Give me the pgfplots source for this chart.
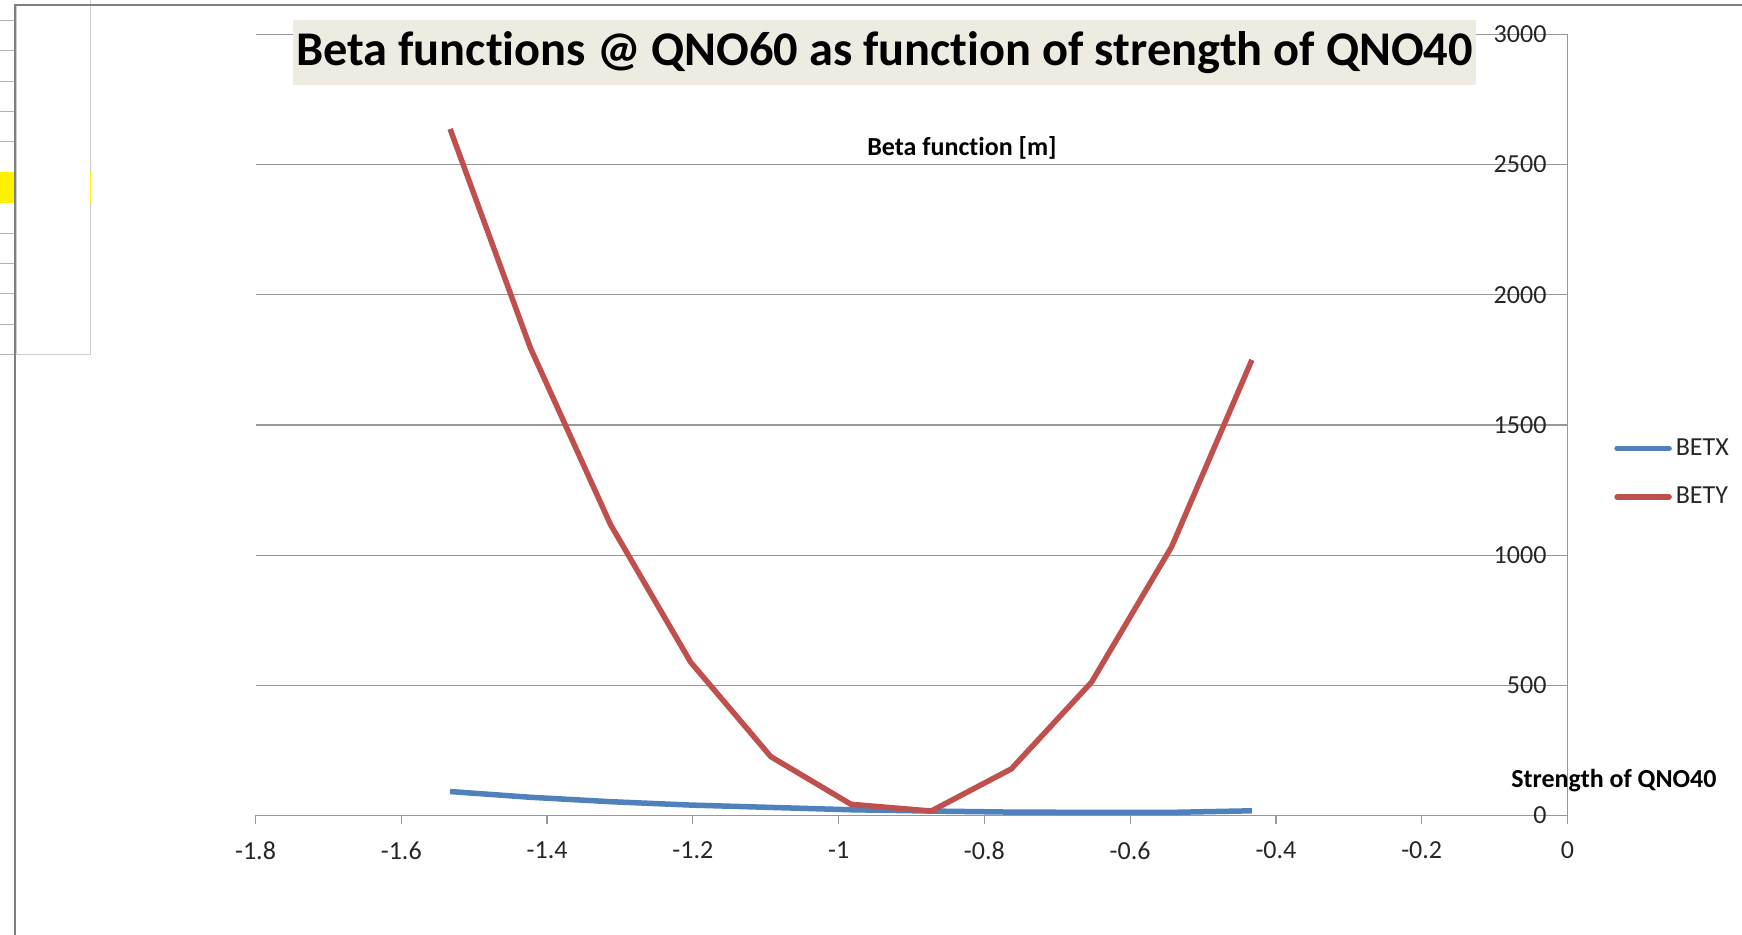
\documentclass[border=0pt]{standalone}
\usepackage{fontspec}
\setmainfont{Carlito}[Ligatures=NoCommon]
\usepackage{pgfplots}
\pgfplotsset{compat=1.18}
\definecolor{betx}{HTML}{4F81BD}
\definecolor{bety}{HTML}{C0504D}
\definecolor{axgray}{HTML}{989898}
\definecolor{txt}{HTML}{262626}
\definecolor{titlebg}{HTML}{EEECE1}
\newcommand{\lbl}{\fontsize{13}{15}\selectfont}

\begin{document}
\begin{tikzpicture}
\path[use as bounding box] (0,0) rectangle (871pt,467.5pt);
\begin{axis}[
    at={(127.75pt,59.75pt)}, anchor=south west,
    scale only axis, width=656pt, height=390.5pt,
    xmin=-1.8, xmax=0, ymin=0, ymax=3000,
    axis x line*=bottom, axis y line*=right,
    axis line style={axgray, line width=0.6pt},
    xtick={-1.8,-1.6,-1.4,-1.2,-1,-0.8,-0.6,-0.4,-0.2,0},
    xticklabels={-1.8,-1.6,-1.4,-1.2,-1,-0.8,-0.6,-0.4,-0.2,0},
    ytick={0,500,1000,1500,2000,2500,3000},
    yticklabels={0,500,1000,1500,2000,2500,3000},
    ymajorgrids,
    grid style={axgray, line width=0.6pt},
    tick align=outside,
    major tick length=4.5pt,
    x tick style={axgray, line width=0.6pt},
    y tick style={draw=none},
    xticklabel style={font=\lbl, text=txt, yshift=-5pt},
    yticklabel style={font=\lbl, text=txt, anchor=east, xshift=-11.5pt},
    title={Beta functions @ QNO60 as function of strength of QNO40},
    title style={at={(axis description cs:0.4794,0.9756)}, anchor=center,
        yshift=-5.3pt, fill=titlebg, font=\bfseries\fontsize{24.2}{28}\selectfont,
        minimum width=591.5pt, minimum height=32.5pt, inner sep=0pt},
    xlabel={Strength of QNO40},
    xlabel style={at={(axis description cs:1.0354,0.0442)}, anchor=center,
        font=\bfseries\lbl},
    ylabel={Beta function [m]},
    ylabel style={at={(axis description cs:0.5385,0.855)}, anchor=center,
        rotate=-90, font=\bfseries\lbl},
    legend style={draw=none, fill=none, at={(axis description cs:1.0354,0.439)},
        anchor=west, font=\lbl, text=txt, row sep=10.5pt, inner sep=0pt},
    legend cell align=left,
    legend image code/.code={\draw[#1, line cap=round] (0pt,0pt) -- (26pt,0pt);},
    every axis plot/.append style={line width=2.75pt, line join=round},
    clip=false,
]
\addplot[color=betx] coordinates {
    (-1.533,92) (-1.423,70) (-1.313,53) (-1.203,40) (-1.093,31) (-0.983,22)
    (-0.873,17) (-0.763,13) (-0.653,12) (-0.543,12) (-0.433,18)
};
\addlegendentry{BETX}
\addplot[color=bety] coordinates {
    (-1.533,2637) (-1.423,1797) (-1.313,1118) (-1.203,589) (-1.093,226) (-0.983,43)
    (-0.873,17) (-0.763,179) (-0.653,512) (-0.543,1033) (-0.433,1750)
};
\addlegendentry{BETY}
\end{axis}
% spreadsheet frame left of the chart
\begin{scope}[x=0.5pt, y=-0.5pt, yshift=467.5pt]
  \fill[yellow] (0,172) rectangle (16,203);
  \foreach \yy in {20.7,50.7,81.3,111.7,141.7,234,264,294,324.3,355}
    \draw[gray!60, line width=0.5pt] (0,\yy) -- (15,\yy);
  \draw[gray!40, line width=0.5pt] (16,5) rectangle (90.5,355);
  \draw[gray!40, line width=0.5pt] (90.5,0) -- (90.5,5);
  \draw[yellow, line width=0.6pt] (90.5,172) -- (90.5,203);
  \draw[gray, line width=1pt] (15,935) -- (15,5) -- (1742,5);
\end{scope}
\end{tikzpicture}
\end{document}
